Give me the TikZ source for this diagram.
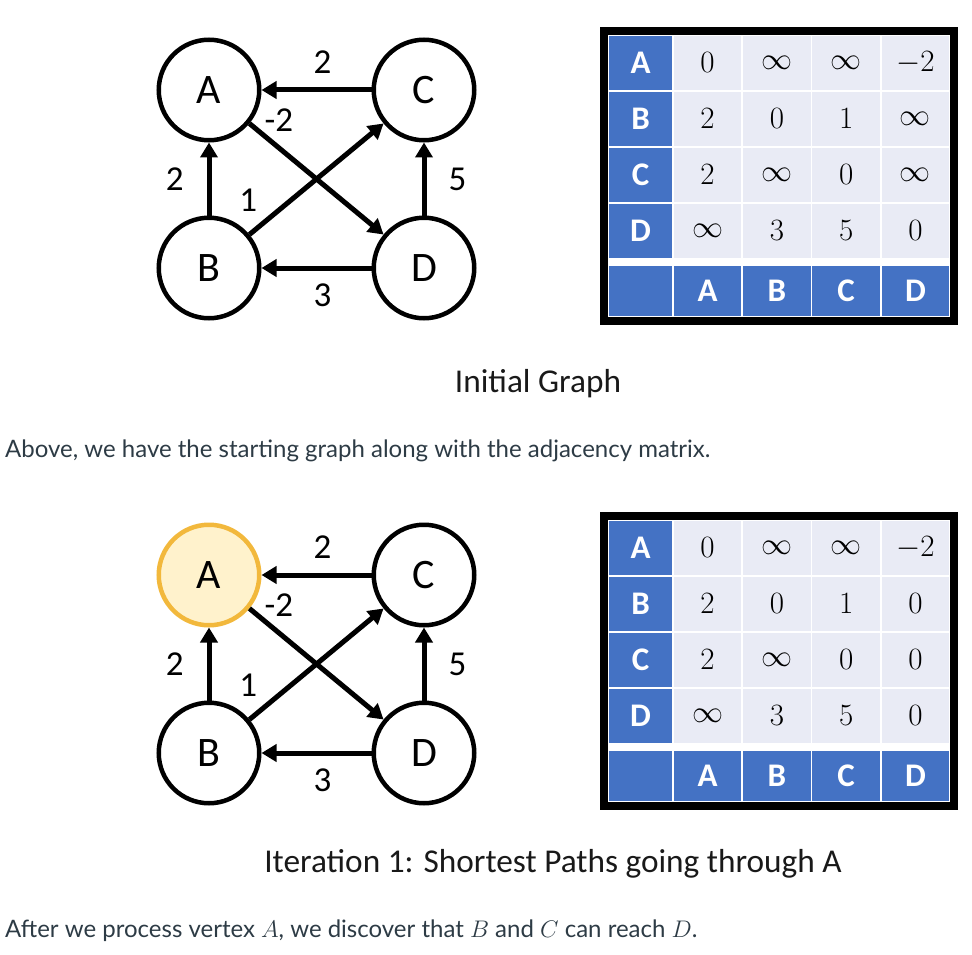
\RequirePackage{fix-cm}
\documentclass[tikz,border=0pt]{standalone}
\usepackage[no-math]{fontspec}
\setmainfont{Lato}
\newfontfamily\calib{Carlito}
\usetikzlibrary{arrows.meta,positioning}
\definecolor{hblue}{HTML}{4472C4}
\definecolor{cellbg}{HTML}{E9EBF5}
\definecolor{txt}{HTML}{2D3B45}
\definecolor{gold}{HTML}{F2B83C}
\definecolor{goldbg}{HTML}{FFF2CC}

\begin{document}
\begin{tikzpicture}[
  x=1pt, y=-1pt,
  vtx/.style={circle, draw, line width=4.5pt, minimum size=100.5pt, inner sep=0pt,
              font=\calib\fontsize{42}{48}\selectfont},
  hot/.style={vtx, draw=gold, fill=goldbg},
  ar/.style={-{Triangle[length=15pt, width=17pt]}, line width=5pt},
  elab/.style={inner sep=0pt, font=\calib\fontsize{35}{40}\selectfont},
  cell/.style={draw=white, line width=1.5pt, fill=cellbg, inner sep=0pt,
               minimum width=69.25pt, minimum height=56pt,
               font=\fontsize{31}{37}\selectfont},
  hdr/.style={cell, fill=hblue, text=white, minimum width=65pt,
              font=\calib\bfseries\fontsize{33}{38}\selectfont},
  captxt/.style={inner sep=0pt, text=black!90, font=\calib\fontsize{33.3}{40}\selectfont},
  para/.style={inner sep=0pt, text=txt, font=\fontsize{24}{28}\selectfont}
]
  \useasboundingbox (0,0) rectangle (972,955);

  % initial graph
  \node[vtx] (a1) at (209,90) {A};
  \node[vtx, right=110pt of a1] (c1) {C};
  \node[vtx, below=73pt of a1]  (b1) {B};
  \node[vtx, below=73pt of c1]  (d1) {D};

  \draw[ar] (c1) -- node[elab, above=14pt, xshift=6pt] {2} (a1);
  \draw[ar] (b1) -- node[elab, left=23pt] {2} (a1);
  \draw[ar] (d1) -- node[elab, right=22pt] {5} (c1);
  \draw[ar] (d1) -- node[elab, below=13pt, xshift=6pt] {3} (b1);
  \draw[ar] (a1) -- node[elab, pos=.22, above=14pt] {-2} (d1);
  \draw[ar] (b1) -- node[elab, pos=.05, above=15pt, xshift=-8pt] {1} (c1);

  % after iteration 1
  \node[hot] (a2) at (209,575) {A};
  \node[vtx, right=110pt of a2] (c2) {C};
  \node[vtx, below=73pt of a2]  (b2) {B};
  \node[vtx, below=73pt of c2]  (d2) {D};

  \draw[ar] (c2) -- node[elab, above=14pt, xshift=6pt] {2} (a2);
  \draw[ar] (b2) -- node[elab, left=23pt] {2} (a2);
  \draw[ar] (d2) -- node[elab, right=22pt] {5} (c2);
  \draw[ar] (d2) -- node[elab, below=13pt, xshift=6pt] {3} (b2);
  \draw[ar] (a2) -- node[elab, pos=.22, above=14pt] {-2} (d2);
  \draw[ar] (b2) -- node[elab, pos=.05, above=15pt, xshift=-8pt] {1} (c2);

  % adjacency matrices
  \foreach \k/\dy/\bd/\cd in {1/0/\infty/\infty, 2/485/0/0} {
    \begin{scope}[shift={(0,\dy)}]
      \fill[white] (608,35) rectangle (950,317);
      \foreach \r/\lab/\va/\vb/\vc/\vd/\y in {
          1/A/0/\infty/\infty/-2/63, 2/B/2/0/1/\bd/119,
          3/C/2/\infty/0/\cd/175, 4/D/\infty/3/5/0/231} {
        \node[hdr]  (m\k-\r-0) at (640.5,\y) {\lab};
        \node[cell] (m\k-\r-1) at (707.6,\y) {$\va$};
        \node[cell] (m\k-\r-2) at (776.9,\y) {$\vb$};
        \node[cell] (m\k-\r-3) at (846.1,\y) {$\vc$};
        \node[cell] (m\k-\r-4) at (915.4,\y) {$\vd$};
      }
      \node[hdr, minimum height=52pt] (m\k-5-0) at (640.5,291) {};
      \foreach \c/\lab/\x in {1/A/707.6, 2/B/776.9, 3/C/846.1, 4/D/915.4}
        \node[hdr, minimum width=69.25pt, minimum height=52pt] (m\k-5-\c) at (\x,291) {\lab};
      \draw[line width=8pt] (604,31) rectangle (954,321);
    \end{scope}
  }

  % captions and text
  \node[captxt, anchor=base] (cap1) at (538,392) {Initial Graph};
  \node[para, anchor=base west] (txt1) at (5,457)
    {Above, we have the starting graph along with the adjacency matrix.};
  \node[captxt, anchor=base] (cap2) at (553,872) {Iteration 1: Shortest Paths going through A};
  \node[para, anchor=base west] (txt2) at (5,937)
    {After we process vertex $A$, we discover that $B$ and $C$ can reach $D$.};
\end{tikzpicture}
\end{document}
